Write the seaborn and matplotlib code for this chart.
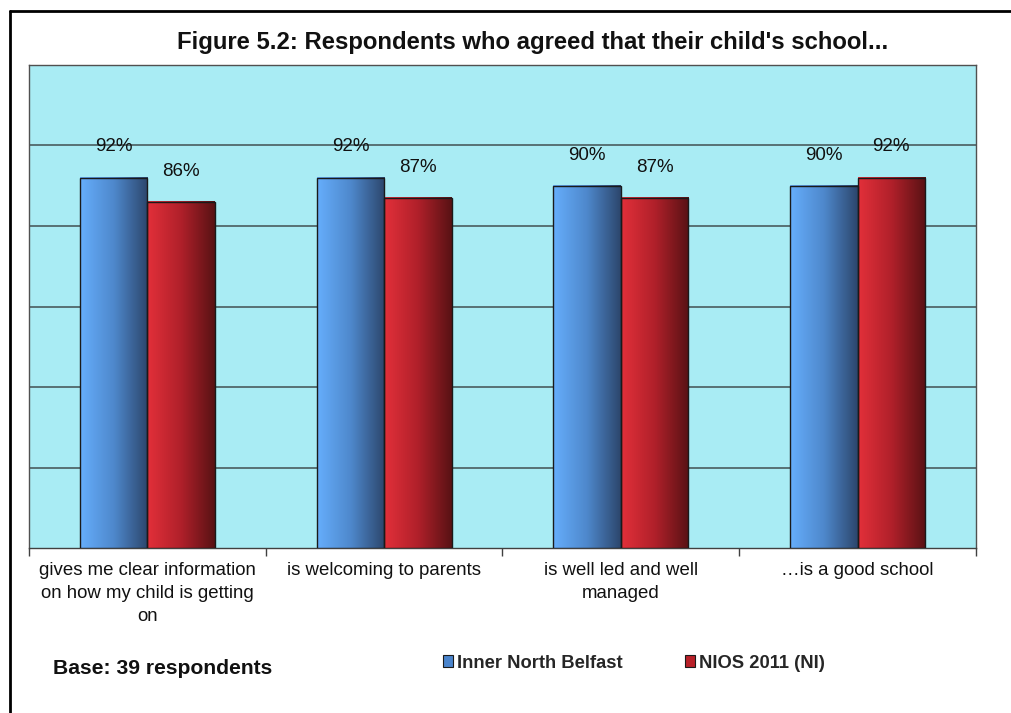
import textwrap
import numpy as np
import pandas as pd
import matplotlib
matplotlib.use("Agg")
import matplotlib.pyplot as plt
import seaborn as sns
from matplotlib.colors import LinearSegmentedColormap
from matplotlib.patches import Patch
from matplotlib.lines import Line2D

# ---- data ----
categories = [
    "gives me clear information on how my child is getting on",
    "is welcoming to parents",
    "is well led and well managed",
    "\u2026is a good school",
]
series_names = ["Inner North Belfast", "NIOS 2011 (NI)"]
inner_north_belfast = [92, 92, 90, 90]
nios_2011 = [86, 87, 87, 92]

title = "Figure 5.2: Respondents who agreed that their child's school..."
base_note = "Base: 39 respondents"

df = pd.DataFrame({
    "statement": categories * 2,
    "pct": inner_north_belfast + nios_2011,
    "series": [series_names[0]] * len(categories) + [series_names[1]] * len(categories),
})

# ---- style ----
sns.set_theme(style="white")
plt.rcParams["font.family"] = ["Liberation Sans", "DejaVu Sans"]

W, H = 1012, 713
fig = plt.figure(figsize=(W / 100, H / 100), dpi=100)
fig.patch.set_facecolor("white")
ax = fig.add_axes([29 / W, 1 - 548 / H, (976 - 29) / W, (548 - 65) / H])
ax.set_facecolor("#a9ecf4")

blue_mid = "#4a84cc"
red_mid = "#b82028"
sns.barplot(data=df, x="statement", y="pct", hue="series", hue_order=series_names,
            palette=[blue_mid, red_mid], width=0.57, saturation=1, legend=False,
            edgecolor="#1a1a1a", linewidth=1.0, ax=ax, zorder=3)

cmaps = [
    LinearSegmentedColormap.from_list("b", ["#66aefc", "#4e88cc", "#2c466c"]),
    LinearSegmentedColormap.from_list("r", ["#e3303a", "#b0202a", "#581214"]),
]
grad = np.linspace(0, 1, 256).reshape(1, -1)
for cont, cm in zip(ax.containers, cmaps):
    for p in cont.patches:
        x0, y0 = p.get_x(), p.get_y()
        w, h = p.get_width(), p.get_height()
        ax.imshow(grad, cmap=cm, extent=[x0, x0 + w, y0, y0 + h],
                  aspect="auto", zorder=3, interpolation="bicubic")
        p.set_facecolor("none")
        p.set_zorder(4)
    ax.bar_label(cont, labels=[f"{v:.0f}%" for v in cont.datavalues],
                 padding=16, fontsize=13.5, color="#111111")

ax.set_xlim(-0.5, len(categories) - 0.5)
ax.set_ylim(0, 120)
ax.set_yticks([20, 40, 60, 80, 100])
ax.set_yticklabels([])
ax.tick_params(axis="y", length=0)
ax.yaxis.grid(True, color="#4a5c5e", linewidth=1.2, zorder=1)
ax.set_axisbelow(True)

ax.set_xticks(range(len(categories)))
ax.set_xticklabels([textwrap.fill(c, 26) for c in categories], fontsize=13.4,
                   color="#111111")
for t in ax.get_xticklabels():
    t.set_linespacing(1.45)
ax.set_xticks(np.arange(-0.5, len(categories), 1.0), minor=True)
ax.tick_params(axis="x", which="major", length=0, pad=10)
ax.tick_params(axis="x", which="minor", length=6, width=1, color="#404040",
               bottom=True)
ax.set_xlabel("")
ax.set_ylabel("")
for s in ax.spines.values():
    s.set_visible(True)
    s.set_color("#505050")
    s.set_linewidth(1.0)
ax.spines["bottom"].set_color("#404040")

# title and note
fig.text(533 / W, 1 - 42 / H, title, ha="center", va="center",
         fontsize=17.2, fontweight="bold", color="#111111")
fig.text(53 / W, 1 - 668 / H, base_note, ha="left", va="center",
         fontsize=15.2, fontweight="bold", color="#111111")

# legend
handles = [Patch(facecolor=blue_mid, edgecolor="#1a1a1a", linewidth=0.8),
           Patch(facecolor=red_mid, edgecolor="#1a1a1a", linewidth=0.8)]
leg = fig.legend(handles, series_names, loc="center left",
                 bbox_to_anchor=(443 / W, 1 - 663 / H), ncol=2, frameon=False,
                 borderpad=0, borderaxespad=0, handlelength=0.55, handleheight=0.55,
                 handletextpad=0.22, columnspacing=3.4,
                 prop={"size": 13.2, "weight": "bold"})

# outer frame (clipped by image edges)
fig.add_artist(Line2D([10 / W, 10 / W], [0, 1 - 11 / H], transform=fig.transFigure,
                      color="black", linewidth=2))
fig.add_artist(Line2D([10 / W, 1], [1 - 11 / H, 1 - 11 / H], transform=fig.transFigure,
                      color="black", linewidth=2))

fig.savefig("out.png", dpi=100)
